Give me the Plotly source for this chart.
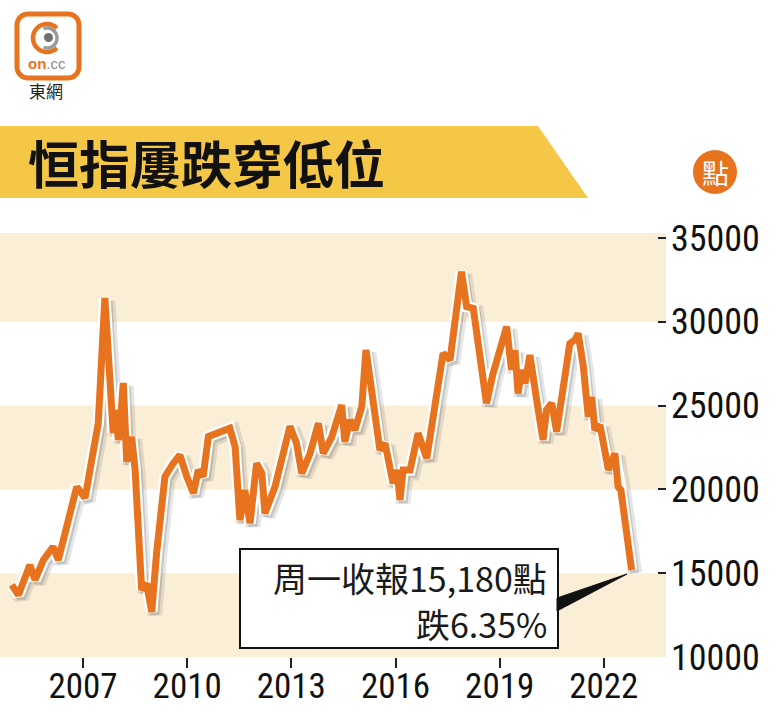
import numpy as np
import plotly.graph_objects as go

# ---------------- data ----------------
years = [2004.95, 2005.14, 2005.47, 2005.62, 2005.86, 2006.14, 2006.29, 2006.82,
         2007.06, 2007.44, 2007.63, 2007.78, 2007.87, 2007.92, 2008.02, 2008.07,
         2008.16, 2008.26, 2008.40, 2008.50, 2008.69, 2008.83, 2008.98, 2009.12,
         2009.36, 2009.60, 2009.79, 2009.99, 2010.18, 2010.32, 2010.46, 2010.61,
         2010.85, 2011.23, 2011.38, 2011.52, 2011.66, 2011.81, 2012.00, 2012.15,
         2012.24, 2012.53, 2012.96, 2013.15, 2013.30, 2013.54, 2013.78, 2013.92,
         2014.16, 2014.45, 2014.54, 2014.69, 2014.83, 2015.03, 2015.15, 2015.55,
         2015.70, 2015.93, 2016.04, 2016.13, 2016.22, 2016.42, 2016.65, 2016.90,
         2017.37, 2017.57, 2017.90, 2018.05, 2018.24, 2018.62, 2018.81, 2019.20,
         2019.34, 2019.44, 2019.53, 2019.63, 2019.73, 2019.87, 2020.11, 2020.25,
         2020.35, 2020.50, 2020.64, 2021.02, 2021.17, 2021.26, 2021.41, 2021.55,
         2021.65, 2021.74, 2021.89, 2022.13, 2022.32, 2022.41, 2022.49, 2022.80]
hsi = [14300, 13700, 15490, 14600, 15790, 16580, 15790, 20160,
       19490, 23960, 31420, 27120, 23370, 24740, 22950, 23800,
       26350, 21650, 23150, 21200, 14000, 14400, 12700, 16200,
       20760, 21560, 22050, 20760, 19770, 21160, 20760, 23150,
       23350, 23650, 22560, 18170, 19960, 17980, 21560, 20960,
       18570, 20160, 23770, 22760, 20960, 22150, 23950, 22150,
       23100, 25040, 22850, 24150, 23550, 24950, 28320, 22350,
       22750, 20360, 21160, 19370, 21160, 21160, 23350, 21860,
       28120, 27720, 32990, 30900, 30800, 25140, 26920, 29710,
       27130, 28320, 25730, 27130, 26330, 28020, 24740, 22950,
       24740, 25140, 23450, 28710, 28920, 29310, 27320, 24340,
       25530, 23550, 23840, 21160, 22150, 20160, 19960, 15190]

x_tick_vals = [2007, 2010, 2013, 2016, 2019, 2022]
x_tick_text = ["2007", "2010", "2013", "2016", "2019", "2022"]
y_tick_vals = [10000, 15000, 20000, 25000, 30000, 35000]
y_tick_text = ["10000", "15000", "20000", "25000", "30000", "35000"]
band_ranges = [(10000, 15000), (20000, 25000), (30000, 35300)]

title_text = "恒指屢跌穿低位"
unit_text = "點"
callout_line1 = "周一收報15,180點"
callout_line2 = "跌6.35%"
logo_name = "東網"

# ---------------- layout geometry ----------------
W, H = 780, 711
L, R, T, B = 0, 114, 233, 54
PW, PH = W - L - R, H - T - B
X_RANGE = [2004.61, 2023.79]
Y_RANGE = [10000, 35300]

ORANGE = "#E8731E"
BAND = "#FAEED7"
YELLOW = "#F4C746"
TICK_FONT = "Liberation Sans Narrow, Roboto Condensed, DejaVu Sans Condensed, sans-serif"
CJK = "Noto Sans CJK TC, Noto Sans CJK SC, sans-serif"


def px(x):
    return (x - L) / PW


def py(y):
    return (H - B - y) / PH


def path_from(points, close=False):
    s = "M " + " L ".join(f"{px(a):.5f},{py(b):.5f}" for a, b in points)
    return s + (" Z" if close else "")


def arc_pts(cx, cy, r, a0, a1, n=40):
    angs = np.radians(np.linspace(a0, a1, n))
    return [(cx + r * np.cos(a), cy - r * np.sin(a)) for a in angs]


def rounded_rect_pts(x0, y0, x1, y1, r):
    pts = []
    pts += arc_pts(x1 - r, y0 + r, r, 90, 0, 10)
    pts += arc_pts(x1 - r, y1 - r, r, 0, -90, 10)
    pts += arc_pts(x0 + r, y1 - r, r, -90, -180, 10)
    pts += arc_pts(x0 + r, y0 + r, r, 180, 90, 10)
    return pts


fig = go.Figure()

xs = np.array(years, dtype=float)
ys = np.array(hsi, dtype=float)
dx = 3.0 * (X_RANGE[1] - X_RANGE[0]) / PW
dy = 3.0 * (Y_RANGE[1] - Y_RANGE[0]) / PH

# soft shadow
fig.add_trace(go.Scatter(x=xs + dx, y=ys - dy, mode="lines",
                         line=dict(color="rgba(80,80,80,0.14)", width=15),
                         hoverinfo="skip", showlegend=False))
fig.add_trace(go.Scatter(x=xs + dx, y=ys - dy, mode="lines",
                         line=dict(color="rgba(80,80,80,0.22)", width=9),
                         hoverinfo="skip", showlegend=False))
# white outline
fig.add_trace(go.Scatter(x=xs, y=ys, mode="lines",
                         line=dict(color="white", width=11.5),
                         hoverinfo="skip", showlegend=False))
# main line
fig.add_trace(go.Scatter(x=xs, y=ys, mode="lines",
                         line=dict(color=ORANGE, width=7),
                         name="恒指", showlegend=False))

shapes = []
for lo, hi in band_ranges:
    shapes.append(dict(type="rect", xref="paper", yref="y", x0=0, x1=1, y0=lo, y1=hi,
                       fillcolor=BAND, line=dict(width=0), layer="below"))

# title banner
shapes.append(dict(type="path", xref="paper", yref="paper",
                   path=path_from([(0, 126), (538, 126), (588, 198), (0, 198)], close=True),
                   fillcolor=YELLOW, line=dict(width=0)))

# unit circle
shapes.append(dict(type="circle", xref="paper", yref="paper",
                   x0=px(693), x1=px(737), y0=py(194), y1=py(150),
                   fillcolor=ORANGE, line=dict(width=0)))

# logo
shapes.append(dict(type="path", xref="paper", yref="paper",
                   path=path_from(rounded_rect_pts(17, 14, 79, 78, 11), close=True),
                   fillcolor="white", line=dict(color=ORANGE, width=5)))
shapes.append(dict(type="path", xref="paper", yref="paper",
                   path=path_from(arc_pts(47, 38, 14, 45, 315)),
                   line=dict(color=ORANGE, width=4.5)))
shapes.append(dict(type="path", xref="paper", yref="paper",
                   path=path_from(arc_pts(47, 38, 10, -110, 110)),
                   line=dict(color="#9A9A9A", width=3.5)))
shapes.append(dict(type="circle", xref="paper", yref="paper",
                   x0=px(44), x1=px(53), y0=py(42), y1=py(33),
                   fillcolor="#707070", line=dict(width=0)))

# callout box + tail
shapes.append(dict(type="rect", xref="paper", yref="paper",
                   x0=px(240), x1=px(558), y0=py(648), y1=py(549),
                   fillcolor="white", line=dict(color="#111", width=2)))
shapes.append(dict(type="path", xref="paper", yref="paper",
                   path=path_from([(557, 598), (627, 574), (557, 611)], close=True),
                   fillcolor="#111", line=dict(color="#111", width=1)))

annotations = [
    dict(text=f"<b>{title_text}</b>", x=px(26), y=py(162), xref="paper", yref="paper",
         xanchor="left", yanchor="middle", showarrow=False,
         font=dict(family=CJK, size=51, color="#111")),
    dict(text=unit_text, x=px(715), y=py(172), xref="paper", yref="paper",
         xanchor="center", yanchor="middle", showarrow=False,
         font=dict(family=CJK, size=27, color="white")),
    dict(text=callout_line1, x=px(549), y=py(577), xref="paper", yref="paper",
         xanchor="right", yanchor="middle", showarrow=False,
         font=dict(family=CJK, size=34, color="#1a1a1a")),
    dict(text=callout_line2, x=px(549), y=py(623), xref="paper", yref="paper",
         xanchor="right", yanchor="middle", showarrow=False,
         font=dict(family=CJK, size=34, color="#1a1a1a")),
    dict(text='<b><span style="color:#E8731E">on</span></b><span style="color:#8a8a8a">.cc</span>',
         x=px(47), y=py(64), xref="paper", yref="paper",
         xanchor="center", yanchor="middle", showarrow=False,
         font=dict(family="Liberation Sans, sans-serif", size=15)),
    dict(text=logo_name, x=px(46), y=py(90), xref="paper", yref="paper",
         xanchor="center", yanchor="middle", showarrow=False,
         font=dict(family=CJK, size=17, color="#222")),
]

fig.update_layout(
    width=W, height=H,
    margin=dict(l=L, r=R, t=T, b=B, pad=0),
    paper_bgcolor="white", plot_bgcolor="white",
    shapes=shapes, annotations=annotations,
    showlegend=False,
    xaxis=dict(range=X_RANGE, tickmode="array", tickvals=x_tick_vals, ticktext=x_tick_text,
               ticks="outside", ticklen=10, tickwidth=2, tickcolor="#222",
               showgrid=False, zeroline=False, showline=False, automargin=False,
               ticklabelstandoff=-12,
               tickfont=dict(family=TICK_FONT, size=35, color="#111")),
    yaxis=dict(range=Y_RANGE, side="right", tickmode="array", tickvals=y_tick_vals,
               ticktext=y_tick_text, ticks="inside", ticklen=8, tickwidth=2,
               tickcolor="#222", showgrid=False, zeroline=False, showline=False,
               ticklabelstandoff=4, automargin=False,
               tickfont=dict(family=TICK_FONT, size=36, color="#111")),
)

fig.write_html("out.html")
